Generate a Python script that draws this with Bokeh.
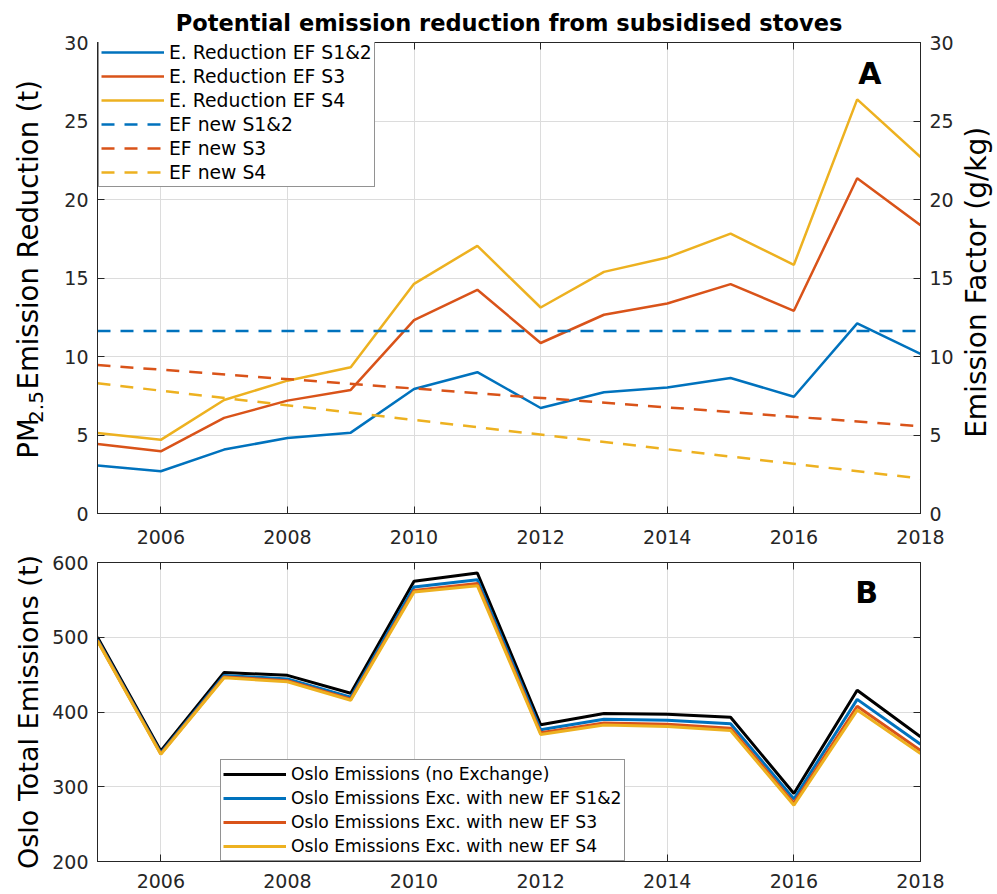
import numpy as np
from bokeh.plotting import figure
from bokeh.models import (Range1d, LinearAxis, Legend, LegendItem, Label,
                          FixedTicker)
from bokeh.core.properties import value
from bokeh.layouts import column, row
from bokeh.embed import file_html
from bokeh.resources import INLINE

# ---- data -------------------------------------------------------------
years = [2005, 2006, 2007, 2008, 2009, 2010, 2011,
         2012, 2013, 2014, 2015, 2016, 2017, 2018]

# PM2.5 emission reduction (t) for each emission-factor scenario
red_s12 = [3.05, 2.69, 4.07, 4.81, 5.15, 7.93, 9.00, 6.72, 7.72, 8.03, 8.63, 7.44, 12.11, 10.16]
red_s3 = [4.43, 3.96, 6.09, 7.19, 7.87, 12.32, 14.25, 10.86, 12.66, 13.38, 14.61, 12.91, 21.35, 18.36]
red_s4 = [5.13, 4.69, 7.23, 8.46, 9.31, 14.63, 17.05, 13.12, 15.39, 16.31, 17.83, 15.84, 26.38, 22.71]

# emission factor of new stoves (g/kg), start and end of the period
ef_years = [2005, 2018]
ef_s12 = [11.62, 11.62]
ef_s3 = [9.46, 5.56]
ef_s4 = [8.29, 2.23]

# Oslo total PM2.5 emissions (t)
oslo_total = [500, 348, 453, 449, 425, 575, 586, 383, 398, 397, 393, 291, 429, 367]
oslo_s12 = [497.0, 345.3, 448.9, 444.2, 419.9, 567.1, 577.0, 376.3, 390.3, 389.0, 384.4, 283.6, 416.9, 356.8]
oslo_s3 = [495.6, 344.0, 446.9, 441.8, 417.1, 562.7, 571.8, 372.1, 385.3, 383.6, 378.4, 278.1, 407.7, 348.6]
oslo_s4 = [494.9, 343.3, 445.8, 440.5, 415.7, 560.4, 569.0, 369.9, 382.6, 380.7, 375.2, 275.2, 402.6, 344.3]

x_ticks = [2006, 2008, 2010, 2012, 2014, 2016, 2018]
ya_ticks = [0, 5, 10, 15, 20, 25, 30]
yb_ticks = [200, 300, 400, 500, 600]

# ---- style ------------------------------------------------------------
BLUE, RED, YELLOW, BLACK = "#0072BD", "#D95319", "#EDB120", "#000000"
AX = "#262626"
FONT = "DejaVu Sans"
TICK_FS = "19px"
LABEL_FS = "27px"
LEFT_W, RIGHT_W = 60, 40    # strips holding panel A's rotated axis titles
HA = 550                    # height of the panel A row


def style_axis(ax, ticks, show_labels=True, standoff=9):
    ax.ticker = FixedTicker(ticks=ticks)
    ax.axis_line_color = AX
    ax.major_tick_line_color = AX
    ax.major_tick_in = 7
    ax.major_tick_out = 0
    ax.minor_tick_line_color = None
    ax.major_label_text_font = FONT
    ax.major_label_text_font_size = TICK_FS
    ax.axis_label_text_font = FONT
    ax.axis_label_text_font_style = "normal"
    ax.axis_label_text_color = "#000000"
    ax.axis_label_text_font_size = LABEL_FS
    if show_labels:
        ax.major_label_text_color = AX
        ax.major_label_standoff = standoff
    else:
        ax.major_label_text_color = None
        ax.major_label_standoff = 0


def base_figure(width, height, y0, y1, left, right, top, bottom):
    p = figure(width=width, height=height, x_range=Range1d(2005, 2018),
               y_range=Range1d(y0, y1), output_backend="svg",
               toolbar_location=None, min_border_left=left,
               min_border_right=right, min_border_top=top,
               min_border_bottom=bottom)
    p.outline_line_color = AX
    p.xgrid.ticker = FixedTicker(ticks=x_ticks)
    for g in (p.xgrid, p.ygrid):
        g.grid_line_color = "#dcdcdc"
        g.grid_line_width = 1
    return p


def style_legend(leg, font_size):
    leg.margin = 0
    leg.padding = 2
    leg.spacing = 0
    leg.label_height = 24
    leg.glyph_height = 24
    leg.glyph_width = 63
    leg.label_standoff = 5
    leg.label_text_font = FONT
    leg.label_text_font_size = font_size
    leg.label_text_color = "#000000"
    leg.border_line_color = AX
    leg.border_line_width = 1
    leg.background_fill_alpha = 1


def title_strip(width):
    # a bare figure whose frame covers the whole strip, in pixel units
    s = figure(width=width, height=HA, x_range=Range1d(0, width),
               y_range=Range1d(0, HA), output_backend="svg",
               toolbar_location=None, min_border=0,
               x_axis_location=None, y_axis_location=None)
    s.outline_line_color = None
    s.xgrid.visible = False
    s.ygrid.visible = False
    return s


# ---- panel A: emission reduction and emission factors ------------------
pa = base_figure(997 - LEFT_W - RIGHT_W, HA, 0, 30,
                 97 - LEFT_W, 77 - RIGHT_W, 41, 37)
pa.title.text = "Potential emission reduction from subsidised stoves"
pa.title.text_font = FONT
pa.title.text_font_size = "22.5px"
pa.title.text_font_style = "bold"
pa.title.text_color = "#000000"
pa.title.align = "center"
pa.title.standoff = 14
pa.ygrid.ticker = FixedTicker(ticks=ya_ticks)
pa.extra_y_ranges = {"ef": Range1d(0, 30)}

style_axis(pa.xaxis[0], x_ticks, standoff=16)
style_axis(pa.yaxis[0], ya_ticks)
right_a = LinearAxis(y_range_name="ef")
style_axis(right_a, ya_ticks)
pa.add_layout(right_a, "right")
top_a = LinearAxis()
style_axis(top_a, x_ticks, show_labels=False)
pa.add_layout(top_a, "above")

ra1 = pa.line(years, red_s12, line_color=BLUE, line_width=2.5)
ra2 = pa.line(years, red_s3, line_color=RED, line_width=2.5)
ra3 = pa.line(years, red_s4, line_color=YELLOW, line_width=2.5)
da1 = pa.line(ef_years, ef_s12, line_color=BLUE, line_width=2.5,
              line_dash="13 10", y_range_name="ef")
da2 = pa.line(ef_years, ef_s3, line_color=RED, line_width=2.5,
              line_dash="13 10", y_range_name="ef")
da3 = pa.line(ef_years, ef_s4, line_color=YELLOW, line_width=2.5,
              line_dash="13 10", y_range_name="ef")

leg_a = Legend(items=[
    LegendItem(label="E. Reduction EF S1&2", renderers=[ra1]),
    LegendItem(label="E. Reduction EF S3", renderers=[ra2]),
    LegendItem(label="E. Reduction EF S4", renderers=[ra3]),
    LegendItem(label="EF new S1&2", renderers=[da1]),
    LegendItem(label="EF new S3", renderers=[da2]),
    LegendItem(label="EF new S4", renderers=[da3]),
], location=(1, 472 - 148 + 2))
style_legend(leg_a, "18.8px")
pa.add_layout(leg_a)

pa.add_layout(Label(x=2017.2, y=28.0, text="A", text_align="center",
                    text_baseline="middle", text_font=FONT,
                    text_font_size="30px", text_font_style="bold",
                    text_color="#000000"))

# left title "PM2.5 Emission Reduction (t)" with a true subscript
left_strip = title_strip(LEFT_W)
main_fs, sub_fs = 27.5, 20
pm_w = 1.52 * main_fs           # advance of "PM"
sub_w = 1.95 * sub_fs           # advance of "2.5" plus a little air
base_x = 27
y0 = HA - 486
left_strip.text(x=[base_x, base_x + 8, base_x],
                y=[y0, y0 + pm_w, y0 + pm_w + sub_w],
                text=["PM", "2.5", " Emission Reduction (t)"],
                angle=np.pi / 2, text_align="left",
                text_baseline="alphabetic", text_font=value(FONT),
                text_font_size=[f"{main_fs}px", f"{sub_fs}px", f"{main_fs}px"],
                text_color="#000000")

# right title, reading upwards like the left one
right_strip = title_strip(RIGHT_W)
right_strip.text(x=[19], y=[HA - 280], text=["Emission Factor (g/kg)"],
                 angle=np.pi / 2, text_align="center",
                 text_baseline="alphabetic", text_font=value(FONT),
                 text_font_size="28px", text_color="#000000")

# ---- panel B: Oslo total emissions -----------------------------------
pb = base_figure(997, 344, 200, 600, 97, 77, 12, 33)
pb.ygrid.ticker = FixedTicker(ticks=yb_ticks)
style_axis(pb.xaxis[0], x_ticks, standoff=12)
style_axis(pb.yaxis[0], yb_ticks)
pb.yaxis[0].axis_label = "Oslo Total Emissions (t)"
right_b = LinearAxis()
style_axis(right_b, yb_ticks, show_labels=False)
pb.add_layout(right_b, "right")
top_b = LinearAxis()
style_axis(top_b, x_ticks, show_labels=False)
pb.add_layout(top_b, "above")

rb0 = pb.line(years, oslo_total, line_color=BLACK, line_width=3)
rb1 = pb.line(years, oslo_s12, line_color=BLUE, line_width=3)
rb2 = pb.line(years, oslo_s3, line_color=RED, line_width=3)
rb3 = pb.line(years, oslo_s4, line_color=YELLOW, line_width=3)

leg_b = Legend(items=[
    LegendItem(label="Oslo Emissions (no Exchange)", renderers=[rb0]),
    LegendItem(label="Oslo Emissions Exc. with new EF S1&2", renderers=[rb1]),
    LegendItem(label="Oslo Emissions Exc. with new EF S3", renderers=[rb2]),
    LegendItem(label="Oslo Emissions Exc. with new EF S4", renderers=[rb3]),
], location=(123, 0))
style_legend(leg_b, "17.2px")
pb.add_layout(leg_b)

pb.add_layout(Label(x=2017.15, y=560, text="B", text_align="center",
                    text_baseline="middle", text_font=FONT,
                    text_font_size="30px", text_font_style="bold",
                    text_color="#000000"))

layout = column(row(left_strip, pa, right_strip, spacing=0), pb, spacing=0)
open("out.html", "w").write(file_html(layout, INLINE))
